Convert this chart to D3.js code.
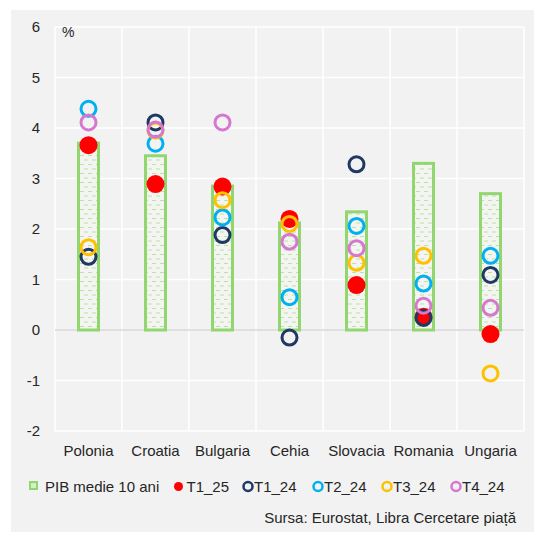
<!DOCTYPE html>
<html lang="ro">
    <head>
        <meta charset="UTF-8">
        <script src="https://cdn.jsdelivr.net/npm/d3@7"></script>
        <title>PIB</title>
        <style>
            body { margin: 0; background: #fff; }
            text { font-family: "Liberation Sans", Arial, sans-serif; fill: #262626; }
        </style>
    </head>
    <body>
        <svg id="canvas" width="534" height="533"></svg>

        <script>
            var categories = ["Polonia", "Croatia", "Bulgaria", "Cehia", "Slovacia", "Romania", "Ungaria"];
            var pibMedie = [3.70, 3.45, 2.85, 2.12, 2.34, 3.30, 2.70];
            var t1_25 = [3.66, 2.89, 2.84, 2.20, 0.89, 0.26, -0.08];
            var t1_24 = [1.45, 4.11, 1.88, -0.15, 3.28, 0.24, 1.09];
            var t2_24 = [4.38, 3.69, 2.23, 0.65, 2.06, 0.92, 1.47];
            var t3_24 = [1.64, 3.95, 2.57, 2.10, 1.33, 1.47, -0.86];
            var t4_24 = [4.11, 3.97, 4.11, 1.75, 1.62, 0.48, 0.44];
            var yTicks = [-2, -1, 0, 1, 2, 3, 4, 5, 6];

            var series = [
                {name: "T1_25", values: t1_25, color: "#ff0000", filled: true},
                {name: "T1_24", values: t1_24, color: "#1f3864", filled: false},
                {name: "T2_24", values: t2_24, color: "#00b0f0", filled: false},
                {name: "T3_24", values: t3_24, color: "#ffc000", filled: false},
                {name: "T4_24", values: t4_24, color: "#d678d0", filled: false}
            ];
            var green = "#92d66f";

            var svg = d3.select("svg#canvas");
            var x = d3.scaleBand().domain(categories).range([55, 524]).padding(0);
            var y = d3.scaleLinear().domain([-2, 6]).range([431, 27]);

            // panel background
            svg.append("rect").attr("x", 11).attr("y", 10).attr("width", 523).attr("height", 522)
                .attr("fill", "#f2f2f2");

            // bar pattern
            var pat = svg.append("defs").append("pattern")
                .attr("id", "dash").attr("patternUnits", "userSpaceOnUse")
                .attr("width", 8).attr("height", 9);
            pat.append("rect").attr("width", 8).attr("height", 9).attr("fill", "#f4f4f2");
            pat.append("line").attr("x1", 0).attr("x2", 4).attr("y1", 2.5).attr("y2", 2.5)
                .attr("stroke", "#b9e4a3").attr("stroke-width", 1);
            pat.append("line").attr("x1", 4).attr("x2", 8).attr("y1", 7).attr("y2", 7)
                .attr("stroke", "#b9e4a3").attr("stroke-width", 1);

            // grid
            svg.append("g").selectAll("line").data(yTicks.filter(function(d) { return d !== 0; }))
                .enter().append("line")
                .attr("x1", 55).attr("x2", 524)
                .attr("y1", function(d) { return y(d); }).attr("y2", function(d) { return y(d); })
                .attr("stroke", "#fff").attr("stroke-width", 1.5);
            var bounds = categories.map(function(c) { return x(c); }).concat([x.range()[1]]);
            svg.append("g").selectAll("line").data(bounds).enter().append("line")
                .attr("x1", function(d) { return d; }).attr("x2", function(d) { return d; })
                .attr("y1", y(6)).attr("y2", y(-2))
                .attr("stroke", "#fff").attr("stroke-width", 1.5);
            svg.append("line").attr("x1", 55).attr("x2", 524).attr("y1", y(0)).attr("y2", y(0))
                .attr("stroke", "#d9d9d9").attr("stroke-width", 1.5);

            // y labels
            svg.append("g").selectAll("text").data(yTicks).enter().append("text")
                .attr("x", 40).attr("y", function(d) { return y(d) + 5; })
                .attr("text-anchor", "end").attr("font-size", 15)
                .text(function(d) { return d; });
            svg.append("text").attr("x", 62).attr("y", 37).attr("font-size", 14).text("%");

            // x labels
            svg.append("g").selectAll("text").data(categories).enter().append("text")
                .attr("x", function(d) { return x(d) + x.bandwidth() / 2; }).attr("y", 456)
                .attr("text-anchor", "middle").attr("font-size", 15)
                .text(function(d) { return d; });

            // bars
            svg.append("g").selectAll("rect").data(pibMedie).enter().append("rect")
                .attr("x", function(d, i) { return x(categories[i]) + x.bandwidth() / 2 - 10; })
                .attr("width", 20)
                .attr("y", function(d) { return y(d); })
                .attr("height", function(d) { return y(0) - y(d); })
                .attr("fill", "url(#dash)").attr("stroke", green).attr("stroke-width", 3);

            // points
            series.forEach(function(s) {
                svg.append("g").selectAll("circle").data(s.values).enter().append("circle")
                    .attr("cx", function(d, i) { return x(categories[i]) + x.bandwidth() / 2; })
                    .attr("cy", function(d) { return y(d); })
                    .attr("r", s.filled ? 9 : 7.5)
                    .attr("fill", s.filled ? s.color : "none")
                    .attr("stroke", s.filled ? "none" : s.color)
                    .attr("stroke-width", 3);
            });

            // legend
            var leg = svg.append("g").attr("font-size", 15);
            leg.append("rect").attr("x", 30).attr("y", 482).attr("width", 7).attr("height", 7)
                .attr("fill", "#d5efc6").attr("stroke", green).attr("stroke-width", 2);
            leg.append("text").attr("x", 45).attr("y", 492).text("PIB medie 10 ani");
            var legX = [178.5, 248, 318, 387, 456];
            series.forEach(function(s, i) {
                leg.append("circle").attr("cx", legX[i]).attr("cy", 486.5)
                    .attr("r", s.filled ? 4.5 : 4.5)
                    .attr("fill", s.filled ? s.color : "none")
                    .attr("stroke", s.filled ? "none" : s.color)
                    .attr("stroke-width", 2.5);
                leg.append("text").attr("x", legX[i] + (s.filled ? 8 : 6)).attr("y", 492).text(s.name);
            });

            svg.append("text").attr("x", 516).attr("y", 523).attr("text-anchor", "end")
                .attr("font-size", 15).text("Sursa: Eurostat, Libra Cercetare piață");
        </script>
    </body>
</html>
